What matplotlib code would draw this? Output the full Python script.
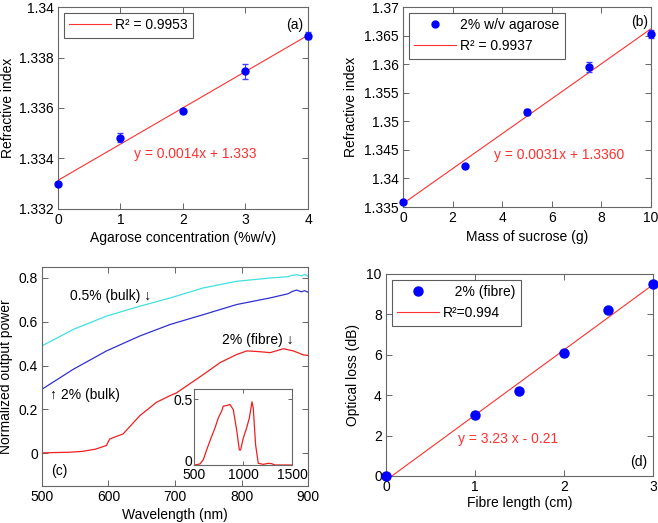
import numpy as np
import matplotlib
matplotlib.use("Agg")
import matplotlib.pyplot as plt
from matplotlib.ticker import FuncFormatter
from matplotlib.transforms import ScaledTranslation

plt.rcParams['font.family'] = ['Liberation Sans', 'DejaVu Sans']
plt.rcParams['font.size'] = 10

# (a) agarose concentration vs refractive index
agar_conc = [0, 1, 2, 3, 4]
agar_ri = [1.3330, 1.33483, 1.33588, 1.33746, 1.33887]
agar_err = [0.00005, 0.00018, 0.00006, 0.0003, 0.00015]

# (b) sucrose mass vs refractive index
sucrose_mass = [0, 2.5, 5, 7.5, 10]
sucrose_ri = [1.33582, 1.34212, 1.35163, 1.35956, 1.36534]
sucrose_err = [0.0001, 0.0001, 0.0006, 0.0009, 0.0007]

# (c) spectra
wl_bulk = [500, 547, 597, 647, 693, 743, 793, 843, 870, 876, 883, 890, 895, 900]
bulk_05 = [0.490, 0.565, 0.626, 0.671, 0.709, 0.755, 0.785, 0.800, 0.806, 0.812, 0.815,
           0.810, 0.816, 0.808]
bulk_2 = [0.292, 0.383, 0.467, 0.535, 0.588, 0.633, 0.679, 0.709, 0.728, 0.738, 0.745,
          0.737, 0.742, 0.735]
wl_fibre = [500, 520, 540, 560, 580, 597, 600, 602, 622, 647, 672, 692, 702, 718, 743,
            768, 793, 808, 820, 833, 843, 853, 863, 878, 893, 903]
fibre_2 = [0.001, 0.003, 0.004, 0.008, 0.018, 0.035, 0.055, 0.065, 0.088, 0.171, 0.232,
           0.262, 0.275, 0.308, 0.360, 0.414, 0.451, 0.467, 0.465, 0.462, 0.459, 0.468,
           0.477, 0.467, 0.449, 0.445]
wl_inset = [500, 510, 561, 595, 629, 680, 714, 748, 782, 799, 833, 867, 901, 935, 963,
            976, 1003, 1037, 1065, 1092, 1105, 1129, 1156, 1207, 1259, 1293, 1327, 1500]
inset_pw = [0.0, 0.0, 0.008, 0.04, 0.115, 0.218, 0.282, 0.359, 0.41, 0.449, 0.454, 0.462,
            0.423, 0.269, 0.115, 0.115, 0.205, 0.282, 0.359, 0.482, 0.436, 0.154, 0.013,
            0.005, 0.013, 0.01, 0.0, 0.0]

# (d) fibre length vs optical loss
fibre_len = [0, 1, 1.5, 2, 2.5, 3]
optical_loss = [0, 3.0, 4.2, 6.1, 8.2, 9.5]

fig = plt.figure(figsize=(6.58, 5.23), dpi=100)
edge = '#666666'
fit_red = '#ff3030'


def style(ax):
    for s in ax.spines.values():
        s.set_color(edge)
        s.set_linewidth(0.8)
    ax.tick_params(direction='in', length=4, width=0.7, color=edge,
                   top=True, right=True, labelsize=10, pad=3)
    ax.yaxis.set_major_formatter(FuncFormatter(lambda v, p: '%g' % round(v, 4)))


def labels(ax, xl, yl, xpos, ypos):
    ax.set_xlabel(xl)
    ax.set_ylabel(yl)
    ax.xaxis.label.set_va('center')
    ax.yaxis.label.set_va('center')
    ax.xaxis.set_label_coords(0.5, xpos)
    ax.yaxis.set_label_coords(ypos, 0.5)


def box_legend(ax, *args, **kw):
    leg = ax.legend(*args, loc='upper left', handlelength=3.0, handletextpad=0.3,
                    fancybox=False, borderaxespad=0.4, **kw)
    leg.get_frame().set_edgecolor('#333333')
    leg.get_frame().set_linewidth(0.8)


# (a)
ax = fig.add_axes([0.0881, 0.6004, 0.38, 0.3862])
style(ax)
p = np.polyfit(agar_conc, agar_ri, 1)
xx = np.array([0, 4])
ax.plot(xx, np.polyval(p, xx), color=fit_red, lw=0.8, label='R² = 0.9953')
ax.errorbar(agar_conc, agar_ri, yerr=agar_err, fmt='o', color='#0000ff', ms=5,
            ecolor='#4040ff', elinewidth=0.8, capsize=2, clip_on=False, zorder=3)
ax.set_xlim(0, 4)
ax.set_ylim(1.332, 1.34)
ax.set_xticks([0, 1, 2, 3, 4])
ax.set_yticks([1.332, 1.334, 1.336, 1.338, 1.34])
labels(ax, 'Agarose concentration (%w/v)', 'Refractive index', -0.144, -0.2)
ax.text(1.22, 1.33418, 'y = 0.0014x + 1.333', color=fit_red, va='center')
ax.text(3.79, 1.3393, '(a)', ha='center', va='center')
box_legend(ax)

# (b)
ax = fig.add_axes([0.6125, 0.6042, 0.3769, 0.3824])
style(ax)
p = np.polyfit(sucrose_mass, sucrose_ri, 1)
xx = np.array([0, 10])
h1 = ax.errorbar(sucrose_mass, sucrose_ri, yerr=sucrose_err, fmt='o', color='#0000ff', ms=5,
                 ecolor='#4040ff', elinewidth=0.8, capsize=2, clip_on=False, zorder=3)
h2, = ax.plot(xx, np.polyval(p, xx), color=fit_red, lw=0.8)
ax.set_xlim(0, 10)
ax.set_ylim(1.335, 1.37)
ax.set_xticks([0, 2, 4, 6, 8, 10])
ax.set_yticks(np.arange(1.335, 1.3701, 0.005))
labels(ax, 'Mass of sucrose (g)', 'Refractive index', -0.15, -0.21)
ax.text(3.67, 1.34416, 'y = 0.0031x + 1.3360', color=fit_red, va='center')
ax.text(9.56, 1.3673, '(b)', ha='center', va='center')
box_legend(ax, [h1[0], h2], ['2% w/v agarose', 'R² = 0.9937'])

# (c)
ax = fig.add_axes([0.0638, 0.0707, 0.4043, 0.4187])
style(ax)
ax.plot(wl_bulk, bulk_05, color='#40e0e0', lw=0.9)
ax.plot(wl_bulk, bulk_2, color='#3030d0', lw=0.9)
ax.plot(wl_fibre, fibre_2, color='#ee2020', lw=0.9)
ax.set_xlim(500, 900)
ax.set_ylim(-0.15, 0.85)
ax.set_xticks([500, 600, 700, 800, 900])
ax.set_yticks([0, 0.2, 0.4, 0.6, 0.8])
labels(ax, 'Wavelength (nm)', 'Normalized output power', -0.132, -0.135)
ax.text(542, 0.72, '0.5% (bulk) \u2193', va='center')
ax.text(512, 0.264, '\u2191 2% (bulk)', va='center')
ax.text(771, 0.518, '2% (fibre) \u2193', va='center')
ax.text(513, -0.08, '(c)', va='center')

axi = fig.add_axes([0.2948, 0.1109, 0.1489, 0.1453])
style(axi)
axi.plot(wl_inset, inset_pw, color='#ee2020', lw=0.9)
axi.set_xlim(500, 1500)
axi.set_ylim(0, 0.58)
axi.set_xticks([500, 1000, 1500])
axi.set_yticks([0, 0.5])
axi.tick_params(length=3, pad=1)
axi.tick_params(axis='x', pad=2.5)
zero_lbl = axi.yaxis.get_major_ticks()[0].label1
zero_lbl.set_transform(zero_lbl.get_transform() + ScaledTranslation(0, 3 / 72, fig.dpi_scale_trans))

# (d)
ax = fig.add_axes([0.5866, 0.0899, 0.4058, 0.3862])
style(ax)
p = np.polyfit(fibre_len, optical_loss, 1)
xx = np.array([0, 3])
ax.plot(fibre_len, optical_loss, 'o', color='#0000ff', ms=6.5, clip_on=False, zorder=3,
        label='   2% (fibre)')
ax.plot(xx, np.polyval(p, xx), color=fit_red, lw=0.8, label='R²=0.994')
ax.set_xlim(0, 3)
ax.set_ylim(0, 10)
ax.set_xticks([0, 1, 2, 3])
ax.set_yticks([0, 2, 4, 6, 8, 10])
labels(ax, 'Fibre length (cm)', 'Optical loss (dB)', -0.135, -0.124)
ax.text(0.81, 1.83, 'y = 3.23 x - 0.21', color=fit_red, va='center')
ax.text(2.84, 0.71, '(d)', ha='center', va='center')
box_legend(ax)

fig.savefig('out.png', dpi=100)
